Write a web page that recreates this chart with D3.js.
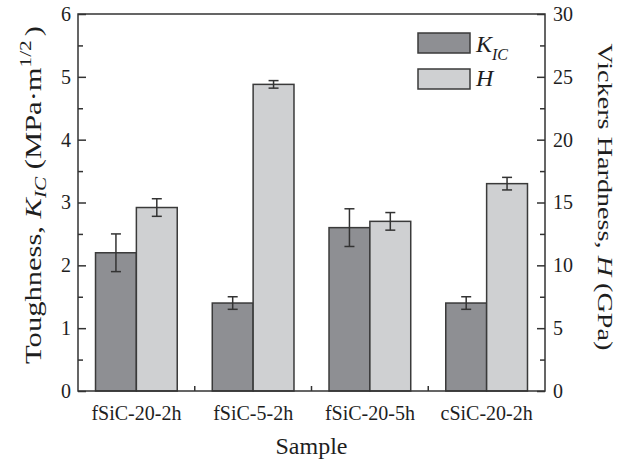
<!DOCTYPE html>
<html>
<head>
<meta charset="utf-8">
<script src="https://cdn.jsdelivr.net/npm/d3@7/dist/d3.min.js"></script>
<style>
  body { margin: 0; background: #fff; }
  svg text { font-family: "Liberation Serif", "DejaVu Serif", serif; fill: #1e1e1e; }
</style>
</head>
<body>
<svg id="chart" width="618" height="461"></svg>
<script>
// data
const samples = ["fSiC-20-2h", "fSiC-5-2h", "fSiC-20-5h", "cSiC-20-2h"];
const kic = [2.2, 1.4, 2.6, 1.4];          // MPa·m^1/2
const kicErr = [0.3, 0.1, 0.3, 0.1];
const hard = [14.6, 24.4, 13.5, 16.5];     // GPa
const hardErr = [0.7, 0.3, 0.7, 0.5];
const leftTicks = [0, 1, 2, 3, 4, 5, 6];
const rightTicks = [0, 5, 10, 15, 20, 25, 30];

const svg = d3.select("#chart");
const margin = { left: 78, right: 73, top: 14, bottom: 70 };
const W = 618, H = 461;
const x0 = margin.left, x1 = W - margin.right;
const y0 = H - margin.bottom, y1 = margin.top;

const x = d3.scaleBand().domain(samples).range([x0, x1])
  .paddingInner(0.3).paddingOuter(0.15);
const xs = d3.scaleBand().domain(["K", "H"]).range([0, x.bandwidth()]);
const yL = d3.scaleLinear().domain([0, 6]).range([y0, y1]);
const yR = d3.scaleLinear().domain([0, 30]).range([y0, y1]);

const colK = "#8e8f93", colH = "#cfd0d2", edge = "#3a3a3a";

// bars
const groups = svg.append("g").selectAll("g")
  .data(samples).enter().append("g")
  .attr("transform", d => `translate(${x(d)},0)`);

groups.append("rect")
  .attr("x", xs("K")).attr("width", xs.bandwidth())
  .attr("y", (d, i) => yL(kic[i])).attr("height", (d, i) => y0 - yL(kic[i]))
  .attr("fill", colK).attr("stroke", edge).attr("stroke-width", 1.5);

groups.append("rect")
  .attr("x", xs("H")).attr("width", xs.bandwidth())
  .attr("y", (d, i) => yR(hard[i])).attr("height", (d, i) => y0 - yR(hard[i]))
  .attr("fill", colH).attr("stroke", edge).attr("stroke-width", 1.5);

// error bars
function errBar(g, cx, top, bot) {
  g.append("line").attr("x1", cx).attr("x2", cx).attr("y1", top).attr("y2", bot);
  g.append("line").attr("x1", cx - 5).attr("x2", cx + 5).attr("y1", top).attr("y2", top);
  g.append("line").attr("x1", cx - 5).attr("x2", cx + 5).attr("y1", bot).attr("y2", bot);
}
groups.each(function (d, i) {
  const g = d3.select(this).append("g").attr("stroke", "#333").attr("stroke-width", 1.5);
  const ck = xs("K") + xs.bandwidth() / 2;
  const ch = xs("H") + xs.bandwidth() / 2;
  errBar(g, ck, yL(kic[i] + kicErr[i]), yL(kic[i] - kicErr[i]));
  errBar(g, ch, yR(hard[i] + hardErr[i]), yR(hard[i] - hardErr[i]));
});

// frame
svg.append("rect").attr("x", x0).attr("y", y1).attr("width", x1 - x0).attr("height", y0 - y1)
  .attr("fill", "none").attr("stroke", "#333").attr("stroke-width", 1.5);

// y axes, ticks pointing inward
const axL = svg.append("g").attr("transform", `translate(${x0},0)`)
  .call(d3.axisLeft(yL).tickValues(leftTicks).tickFormat(d3.format("d")).tickSize(-8).tickPadding(7));
const axR = svg.append("g").attr("transform", `translate(${x1},0)`)
  .call(d3.axisRight(yR).tickValues(rightTicks).tickFormat(d3.format("d")).tickSize(-8).tickPadding(8));
[axL, axR].forEach(a => {
  a.attr("font-family", null);
  a.select(".domain").remove();
  a.selectAll(".tick line").attr("stroke", "#333").attr("stroke-width", 1.5);
  a.selectAll("text").attr("font-size", 20);
});
// minor ticks
svg.append("g").attr("transform", `translate(${x0},0)`)
  .call(d3.axisLeft(yL).tickValues(d3.range(0.5, 6, 1)).tickSize(-5).tickFormat(""))
  .call(a => a.select(".domain").remove())
  .selectAll("line").attr("stroke", "#333").attr("stroke-width", 1.5);
svg.append("g").attr("transform", `translate(${x1},0)`)
  .call(d3.axisRight(yR).tickValues(d3.range(2.5, 30, 5)).tickSize(-5).tickFormat(""))
  .call(a => a.select(".domain").remove())
  .selectAll("line").attr("stroke", "#333").attr("stroke-width", 1.5);

// bottom axis
const axB = svg.append("g").attr("transform", `translate(0,${y0})`)
  .call(d3.axisBottom(x).tickSize(0).tickPadding(15));
axB.attr("font-family", null);
axB.select(".domain").remove();
axB.selectAll("text").attr("font-size", 20);
const bounds = samples.slice(1).map(s => x(s) - x.step() * x.paddingInner() / 2);
svg.append("g").selectAll("line").data(bounds).enter().append("line")
  .attr("x1", d => d).attr("x2", d => d).attr("y1", y0).attr("y2", y0 - 5)
  .attr("stroke", "#333").attr("stroke-width", 1.5);

// axis titles
svg.append("text").attr("x", (x0 + x1) / 2).attr("y", 454)
  .attr("text-anchor", "middle").attr("font-size", 24).text("Sample");

// stretch a rotated title along its length so it spans `len` pixels
function fitRotated(t, cx, cy, angle, len) {
  const w = t.node().getBBox().width;
  t.attr("transform", `translate(${cx},${cy}) rotate(${angle}) scale(${len / w},1)`);
}

const tl = svg.append("text").attr("text-anchor", "middle").attr("font-size", 23);
tl.append("tspan").text("Toughness, ");
tl.append("tspan").attr("font-style", "italic").text("K");
tl.append("tspan").attr("font-style", "italic").attr("font-size", 16).attr("dy", 5).text("IC");
tl.append("tspan").attr("dy", -5).text(" (MPa\u00b7m");
tl.append("tspan").attr("font-size", 16).attr("dy", -10).text("1/2");
tl.append("tspan").attr("dy", 10).attr("dx", 3).text(")");
fitRotated(tl, 41, 195, -90, 338);

const tr = svg.append("text").attr("text-anchor", "middle").attr("font-size", 22);
tr.append("tspan").text("Vickers Hardness, ");
tr.append("tspan").attr("font-style", "italic").text("H");
tr.append("tspan").text(" (GPa)");
fitRotated(tr, 598, 197, 90, 307);

// legend
const lg = svg.append("g").attr("transform", "translate(418,33)");
lg.append("rect").attr("width", 52).attr("height", 20).attr("fill", colK)
  .attr("stroke", edge).attr("stroke-width", 1.5);
lg.append("rect").attr("y", 36).attr("width", 52).attr("height", 20).attr("fill", colH)
  .attr("stroke", edge).attr("stroke-width", 1.5);
const lk = lg.append("text").attr("x", 58).attr("y", 19).attr("font-size", 24);
lk.append("tspan").attr("font-style", "italic").text("K");
lk.append("tspan").attr("font-style", "italic").attr("font-size", 16).attr("dy", 8).text("IC");
lg.append("text").attr("x", 58).attr("y", 53).attr("font-size", 24)
  .attr("font-style", "italic").text("H");
</script>
</body>
</html>
